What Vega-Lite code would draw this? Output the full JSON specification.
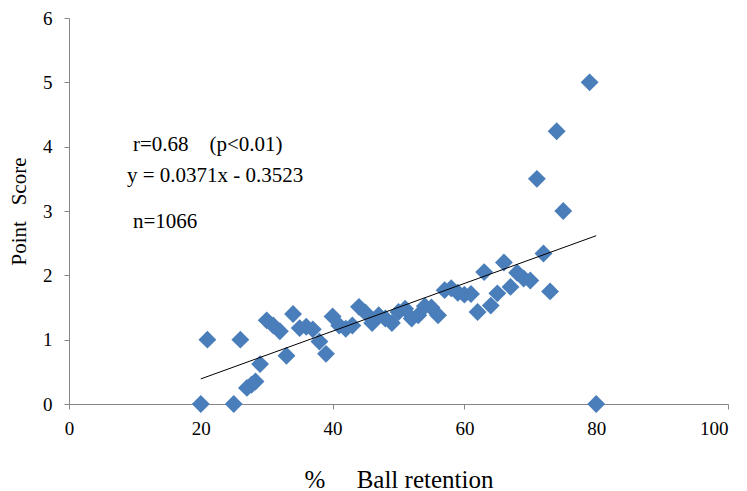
{
  "$schema": "https://vega.github.io/schema/vega-lite/v6.json",
  "width": 659,
  "height": 386,
  "autosize": "none",
  "padding": {"left": 69, "top": 18, "right": 19, "bottom": 87},
  "background": "white",
  "config": {"view": {"stroke": null}, "font": "Liberation Serif"},
  "datasets": {
    "points": [
      {"x": 20, "y": 0}, {"x": 21, "y": 1.0}, {"x": 25, "y": 0}, {"x": 26, "y": 1.0},
      {"x": 27, "y": 0.25}, {"x": 27.7, "y": 0.3}, {"x": 28.3, "y": 0.35}, {"x": 29, "y": 0.62},
      {"x": 30, "y": 1.3}, {"x": 31, "y": 1.22}, {"x": 32, "y": 1.13}, {"x": 33, "y": 0.75},
      {"x": 34, "y": 1.4}, {"x": 35, "y": 1.18}, {"x": 36, "y": 1.2}, {"x": 37, "y": 1.16},
      {"x": 38, "y": 0.97}, {"x": 39, "y": 0.78}, {"x": 40, "y": 1.36}, {"x": 41, "y": 1.22},
      {"x": 42, "y": 1.17}, {"x": 43, "y": 1.22}, {"x": 44, "y": 1.51}, {"x": 45, "y": 1.42},
      {"x": 46, "y": 1.26}, {"x": 47, "y": 1.38}, {"x": 48, "y": 1.33}, {"x": 49, "y": 1.26},
      {"x": 50, "y": 1.43}, {"x": 51, "y": 1.48}, {"x": 52, "y": 1.33}, {"x": 53, "y": 1.38},
      {"x": 54, "y": 1.52}, {"x": 55, "y": 1.5}, {"x": 56, "y": 1.38}, {"x": 57, "y": 1.77},
      {"x": 58, "y": 1.8}, {"x": 59, "y": 1.73}, {"x": 60, "y": 1.7}, {"x": 61, "y": 1.71},
      {"x": 62, "y": 1.43}, {"x": 63, "y": 2.05}, {"x": 64, "y": 1.53}, {"x": 65, "y": 1.72},
      {"x": 66, "y": 2.2}, {"x": 67, "y": 1.82}, {"x": 68, "y": 2.04}, {"x": 69, "y": 1.95},
      {"x": 70, "y": 1.92}, {"x": 71, "y": 3.5}, {"x": 72, "y": 2.34}, {"x": 73, "y": 1.75},
      {"x": 74, "y": 4.24}, {"x": 75, "y": 3.0}, {"x": 79, "y": 5.0}, {"x": 80, "y": 0}
    ],
    "trend": [{"x": 20, "y": 0.39}, {"x": 80, "y": 2.616}],
    "notes": [
      {"x": 9.7, "y": 4.03, "t": "r=0.68\u00a0\u00a0\u00a0\u00a0(p<0.01)"},
      {"x": 8.8, "y": 3.54, "t": "y = 0.0371x - 0.3523"},
      {"x": 9.7, "y": 2.83, "t": "n=1066"}
    ]
  },
  "layer": [
    {
      "data": {"name": "points"},
      "mark": {"type": "point", "shape": "diamond", "filled": true, "size": 320, "color": "#4A7EBB", "opacity": 1},
      "encoding": {
        "x": {
          "field": "x", "type": "quantitative",
          "scale": {"domain": [0, 100], "nice": false, "zero": false},
          "axis": {
            "values": [0, 20, 40, 60, 80, 100], "grid": false, "format": "d",
            "domainColor": "#868686", "tickColor": "#868686", "tickSize": 5,
            "labelFont": "Liberation Serif", "labelFontSize": 19, "labelColor": "#000000",
            "labelPadding": 10, "labelFlush": false,
            "labelAlign": {"condition": {"test": "datum.value == 100", "value": "right"}, "value": "center"},
            "title": "%\u00a0\u00a0\u00a0\u00a0\u00a0Ball retention", "titleFont": "Liberation Serif", "titleFontSize": 25,
            "titleFontWeight": "normal", "titleColor": "#000000",
            "titleY": 83, "titleBaseline": "alphabetic"
          }
        },
        "y": {
          "field": "y", "type": "quantitative",
          "scale": {"domain": [0, 6], "nice": false},
          "axis": {
            "values": [0, 1, 2, 3, 4, 5, 6], "grid": false, "format": "d",
            "domainColor": "#868686", "tickColor": "#868686", "tickSize": 5,
            "labelFont": "Liberation Serif", "labelFontSize": 19, "labelColor": "#000000",
            "labelPadding": 12, "labelFlush": false,
            "title": "Point\u00a0\u00a0\u00a0Score", "titleFont": "Liberation Serif", "titleFontSize": 21,
            "titleFontWeight": "normal", "titleColor": "#000000",
            "titleX": -40
          }
        }
      }
    },
    {
      "data": {"name": "trend"},
      "mark": {"type": "line", "color": "#000000", "strokeWidth": 1},
      "encoding": {
        "x": {"field": "x", "type": "quantitative"},
        "y": {"field": "y", "type": "quantitative"}
      }
    },
    {
      "data": {"name": "notes"},
      "mark": {"type": "text", "align": "left", "baseline": "middle", "font": "Liberation Serif", "fontSize": 21, "color": "#000000"},
      "encoding": {
        "x": {"field": "x", "type": "quantitative"},
        "y": {"field": "y", "type": "quantitative"},
        "text": {"field": "t"}
      }
    }
  ]
}
